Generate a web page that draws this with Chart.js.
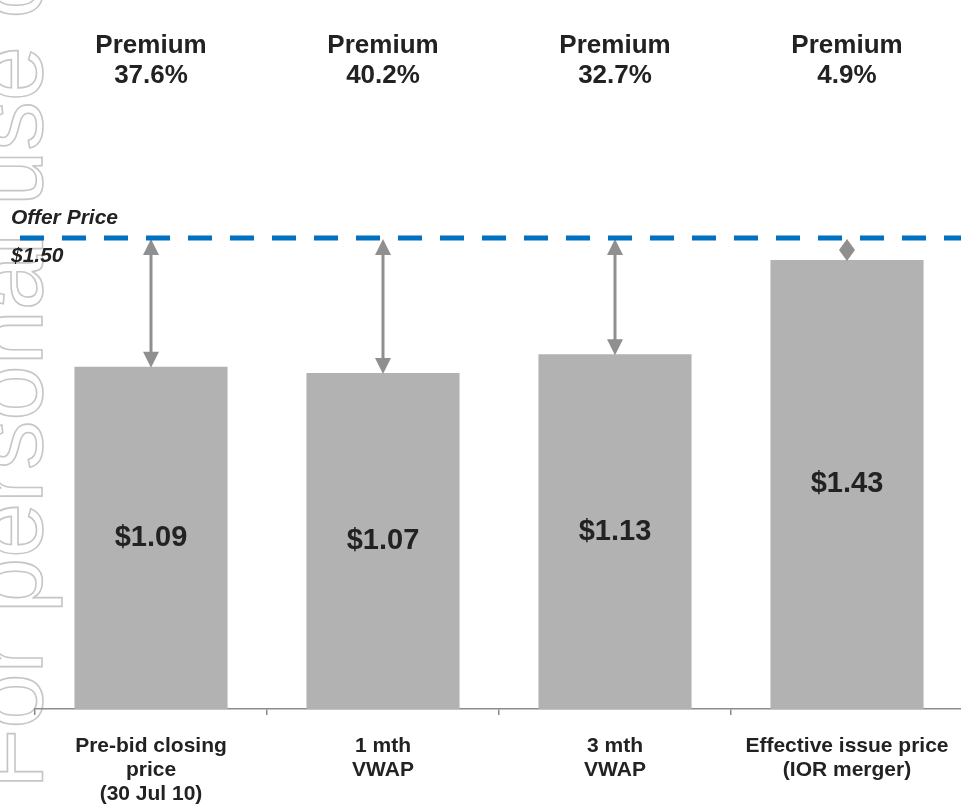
<!DOCTYPE html>
<html><head><meta charset="utf-8">
<script src="https://cdn.jsdelivr.net/npm/chart.js@4/dist/chart.umd.min.js"></script>
<style>html,body{margin:0;padding:0;overflow:hidden;background:#fff}#wrap{width:965px;height:804px}</style>
</head><body><div id="wrap"><canvas id="c" width="965" height="804"></canvas></div>
<script>
const categories = [["Pre-bid closing","price","(30 Jul 10)"],["1 mth","VWAP"],["3 mth","VWAP"],["Effective issue price","(IOR merger)"]];
const prices = [1.09, 1.07, 1.13, 1.43];
const priceLabels = ["$1.09", "$1.07", "$1.13", "$1.43"];
const premiumTitle = "Premium";
const premiums = ["37.6%", "40.2%", "32.7%", "4.9%"];
const offerPrice = 1.50;
const offerTitle = "Offer Price";
const offerLabel = "$1.50";
const watermark = "For personal use only";

const FONT = '"Liberation Sans", Arial, Helvetica, sans-serif';
const TEXT = '#222222';
const ARROW = '#8f8f8f';

function arrowHead(ctx, x, tipY, dir, len, w) {
  ctx.beginPath();
  ctx.moveTo(x, tipY);
  ctx.lineTo(x - w / 2, tipY + dir * len);
  ctx.lineTo(x + w / 2, tipY + dir * len);
  ctx.closePath();
  ctx.fill();
}

const decor = {
  id: 'decor',
  beforeDraw(chart) {
    const ctx = chart.ctx;
    ctx.save();
    ctx.translate(42, 789);
    ctx.rotate(-Math.PI / 2);
    ctx.font = '99px ' + FONT;
    ctx.textAlign = 'left';
    ctx.textBaseline = 'alphabetic';
    ctx.strokeStyle = '#c6c6c6';
    ctx.lineWidth = 1.6;
    ctx.strokeText(watermark, 0, 0);
    ctx.restore();
  },
  afterDatasetsDraw(chart) {
    const ctx = chart.ctx;
    const ys = chart.scales.y;
    const meta = chart.getDatasetMeta(0);
    const yOffer = ys.getPixelForValue(offerPrice);
    ctx.save();
    // value labels inside bars
    ctx.fillStyle = TEXT;
    ctx.font = 'bold 29px ' + FONT;
    ctx.textAlign = 'center';
    ctx.textBaseline = 'middle';
    meta.data.forEach((bar, i) => {
      ctx.fillText(priceLabels[i], bar.x, (bar.y + bar.base) / 2);
    });
    // premium labels
    ctx.font = 'bold 26px ' + FONT;
    ctx.textBaseline = 'alphabetic';
    meta.data.forEach((bar, i) => {
      ctx.fillText(premiumTitle, bar.x, 53);
      ctx.fillText(premiums[i], bar.x, 83);
    });
    // arrows
    const hl = 16, hw = 16;
    ctx.fillStyle = ARROW;
    ctx.strokeStyle = ARROW;
    ctx.lineWidth = 3;
    meta.data.forEach((bar) => {
      const top = yOffer + 1, bot = bar.y + 1;
      const gap = bot - top;
      const len = Math.min(hl, gap / 2);
      if (gap > 2 * hl) {
        ctx.beginPath();
        ctx.moveTo(bar.x, top + hl - 1);
        ctx.lineTo(bar.x, bot - hl + 1);
        ctx.stroke();
      }
      arrowHead(ctx, bar.x, top, 1, len, hw);
      arrowHead(ctx, bar.x, bot, -1, len, hw);
    });
    // offer price line
    ctx.strokeStyle = '#0070c0';
    ctx.lineWidth = 5;
    ctx.setLineDash([24, 18]);
    ctx.beginPath();
    ctx.moveTo(20, yOffer);
    ctx.lineTo(chart.width, yOffer);
    ctx.stroke();
    ctx.setLineDash([]);
    // offer labels
    ctx.fillStyle = TEXT;
    ctx.font = 'italic bold 21px ' + FONT;
    ctx.textAlign = 'left';
    ctx.textBaseline = 'alphabetic';
    ctx.fillText(offerTitle, 11, yOffer - 14);
    ctx.fillText(offerLabel, 11, yOffer + 24);
    ctx.restore();
  }
};

new Chart(document.getElementById('c'), {
  type: 'bar',
  data: {
    labels: categories,
    datasets: [{
      data: prices,
      backgroundColor: '#b2b2b2',
      borderWidth: 0,
      categoryPercentage: 1,
      barPercentage: 0.66
    }]
  },
  options: {
    responsive: false,
    animation: false,
    events: [],
    layout: { padding: { left: 35, right: 2, top: 81, bottom: 0 } },
    plugins: { legend: { display: false }, tooltip: { enabled: false } },
    scales: {
      y: { display: false, min: 0, max: 2.0 },
      x: {
        afterFit(s) { s.height = 95; s.paddingLeft = 0; s.paddingRight = 0; },
        border: { display: true, color: '#8c8c8c', width: 1.5 },
        grid: { offset: true, drawOnChartArea: false, drawTicks: true, tickLength: 6, color: '#8c8c8c', lineWidth: 1.5 },
        ticks: {
          color: TEXT,
          padding: 19,
          maxRotation: 0,
          autoSkip: false,
          font: { family: FONT, size: 21, weight: 'bold', lineHeight: 1.14 }
        }
      }
    }
  },
  plugins: [decor]
});
</script></body></html>
